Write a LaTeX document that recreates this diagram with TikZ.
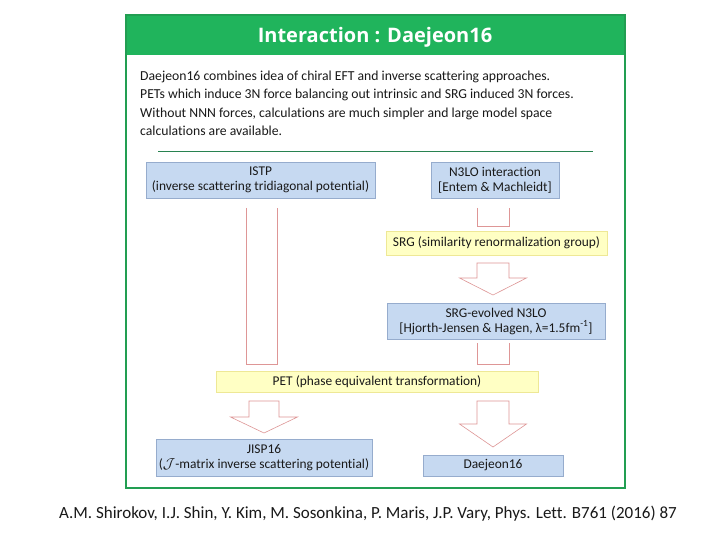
\documentclass[tikz,border=0pt]{standalone}
\usepackage{fontspec}
\setmainfont[Ligatures=NoCommon]{Carlito}
\newfontfamily\hdrfont{Open Sans}
\definecolor{hdrgreen}{RGB}{32,180,92}
\definecolor{frameedge}{RGB}{34,158,82}
\definecolor{sepline}{RGB}{40,130,80}
\definecolor{boxblue}{RGB}{198,217,241}
\definecolor{boxedge}{RGB}{150,172,205}
\definecolor{boxyellow}{RGB}{255,255,196}
\definecolor{yedge}{RGB}{238,232,150}
\definecolor{arrowedge}{RGB}{222,150,150}
\definecolor{txt}{RGB}{25,25,25}
\begin{document}
\begin{tikzpicture}[x=1pt,y=-1pt,
  bluebox/.style={draw=boxedge,fill=boxblue,line width=0.5pt,inner sep=0pt,align=center,
    text=txt,font=\fontsize{13.4}{15}\selectfont},
  yelbox/.style={draw=yedge,fill=boxyellow,line width=0.8pt,inner sep=0pt,align=center,
    text=txt,font=\fontsize{13.4}{15}\selectfont},
  bodyline/.style={anchor=base west,inner sep=0pt,text=txt,font=\fontsize{13.7}{16}\selectfont},
  blockarrow/.style={draw=arrowedge,fill=white,line width=0.6pt,line join=miter}]
\useasboundingbox (0,0) rectangle (720,540);
\fill[white] (0,0) rectangle (720,540);
% frame
\draw[frameedge,line width=2pt,fill=white] (126,15) rectangle (625,488);
\fill[hdrgreen] (127,16) rectangle (624,55);
\node[inner sep=0pt,text=white,font=\hdrfont\bfseries\fontsize{20}{22}\selectfont] (title) at (375,37) {Interaction : Daejeon16};
% body text
\node[bodyline] (l1) at (140,80.5) {Daejeon16 combines idea of chiral EFT and inverse scattering approaches.};
\node[bodyline] (l2) at (140,99) {PETs which induce 3N force balancing out intrinsic and SRG induced 3N forces.};
\node[bodyline] (l3) at (140,117.5) {Without NNN forces, calculations are much simpler and large model space};
\node[bodyline] (l4) at (140,136) {calculations are available.};
\draw[sepline,line width=0.8pt] (158,151) coordinate (s1) -- (593,151) coordinate (s2);
% boxes
\node[bluebox,minimum width=229pt,minimum height=36pt] (istp) at (260.5,180) {ISTP\\(inverse scattering tridiagonal potential)};
\node[bluebox,minimum width=128pt,minimum height=36pt] (n3lo) at (495,180) {N3LO interaction\\{[}Entem \& Machleidt{]}};
\node[yelbox,minimum width=221pt,minimum height=24pt] (srg) at (496.5,243) {SRG (similarity renormalization group)};
\node[bluebox,minimum width=218pt,minimum height=36pt] (srge) at (496,321) {SRG-evolved N3LO\\{[}Hjorth-Jensen \& Hagen, λ=1.5fm\textsuperscript{-1}{]}};
\node[yelbox,minimum width=322pt,minimum height=21pt] (pet) at (377,382) {PET (phase equivalent transformation)};
\node[bluebox,minimum width=216pt,minimum height=37pt] (jisp) at (264,457.5) {JISP16\\($\mathcal{J}$-matrix inverse scattering potential)};
\node[bluebox,minimum width=140pt,minimum height=21pt] (daej) at (493,465.5) {Daejeon16};
% open block arrows
\draw[blockarrow,fill=none] (246,208) -- (246,364) -- (277,364) -- (277,208);
\draw[blockarrow,fill=none] (477,208) -- (477,226) -- (509,226) -- (509,208);
\draw[blockarrow,fill=none] (477,343) -- (477,364) -- (509,364) -- (509,343);
% block arrows
\draw[blockarrow] (477,263) -- (477,278) -- (459.5,278) -- (493,295) -- (526.5,278) -- (509,278) -- (509,263) -- cycle;
\draw[blockarrow] (249,401) -- (249,417) -- (230.5,417) -- (264,433) -- (297.5,417) -- (279,417) -- (279,401) -- cycle;
\draw[blockarrow] (477,401) -- (477,424) -- (459.5,424) -- (493,447) -- (526.5,424) -- (509,424) -- (509,401) -- cycle;
% citation
\node[inner sep=0pt,text=txt,font=\fontsize{17}{20}\selectfont] (cite) at (368,514) {A.M. Shirokov, I.J. Shin, Y. Kim, M. Sosonkina, P. Maris, J.P. Vary, Phys. Lett. B761 (2016) 87};
\end{tikzpicture}
\end{document}
